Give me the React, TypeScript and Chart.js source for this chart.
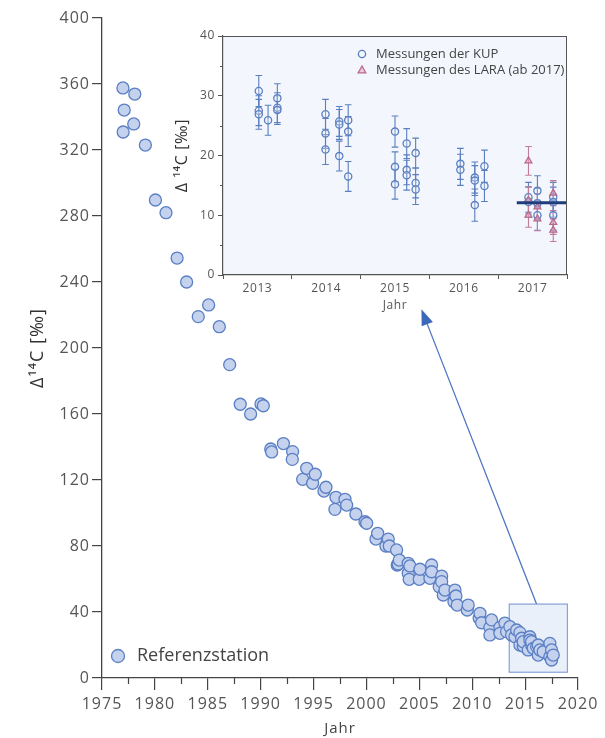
import React, { useEffect, useRef } from 'react';
import { Chart, registerables } from 'chart.js';
Chart.register(...registerables);

// ---------- Main chart data (Referenzstation) ----------
const refYears = [
  1976.98, 1978.1, 1977.1, 1978.0, 1977.0, 1979.1, 1980.05, 1981.05, 1982.1, 1983.0,
  1984.1, 1985.08, 1986.09, 1987.07, 1988.07, 1989.05, 1990.03, 1990.25,
  1990.95, 1991.04, 1992.15, 1993.02, 1992.99, 1993.97, 1994.35, 1994.91, 1995.16,
  1995.98, 1996.17, 1997.02, 1997.12, 1997.97, 1998.13, 1999.0, 1999.86, 2000.02,
  2000.9, 2001.06, 2001.84, 2002.06, 2002.16, 2002.85, 2002.91, 2003.0, 2003.1,
  2003.95, 2003.95, 2004.04, 2004.11, 2004.99, 2005.06, 2006.0, 2006.16, 2006.16,
  2006.88, 2007.11, 2007.11, 2007.26, 2007.42, 2008.27, 2008.37, 2008.46, 2008.58,
  2009.53, 2009.62, 2010.66, 2010.73, 2010.89, 2011.67, 2011.67, 2011.83, 2012.62,
  2012.62, 2013.09, 2013.25, 2013.56, 2013.72, 2014.04, 2014.2, 2014.51, 2014.51,
  2014.67, 2014.82, 2014.82, 2015.29, 2015.45, 2015.45, 2015.61, 2015.61, 2015.77,
  2016.09, 2016.24, 2016.24, 2016.4, 2016.71, 2017.34, 2017.34, 2017.5, 2017.5, 2017.66,
];
const refValues = [
  357.6, 353.9, 344.2, 335.8, 330.9, 323.0, 289.7, 282.0, 254.5, 240.0,
  219.0, 226.1, 212.9, 189.9, 165.9, 160.0, 166.1, 165.0,
  138.8, 137.0, 142.1, 137.2, 132.5, 120.4, 127.1, 118.0, 123.5,
  113.3, 115.6, 102.2, 109.5, 108.3, 104.8, 99.4, 94.7, 93.8,
  84.2, 87.7, 80.0, 84.2, 80.0, 77.6, 68.5, 69.1, 71.5,
  69.5, 63.5, 59.8, 67.9, 59.8, 65.9, 60.4, 68.5, 64.4,
  55.3, 61.8, 58.4, 50.3, 53.3, 46.2, 53.3, 49.7, 44.2,
  41.2, 44.2, 36.2, 39.2, 33.5, 30.7, 26.1, 35.2, 30.7,
  27.1, 33.3, 28.1, 31.1, 26.1, 25.0, 29.1, 27.5, 20.0,
  24.1, 19.4, 22.0, 17.0, 25.0, 23.0, 20.0, 22.0, 18.0,
  19.0, 20.0, 13.9, 17.0, 15.9, 21.0, 12.9, 17.0, 10.9, 13.9,
];
const minorYears = [1977.5, 1982.5, 1987.5, 1992.5, 1997.5, 2002.5, 2007.5, 2012.5, 2017.5];
const zoomBoxYears = [2013.5, 2019.0];
const zoomBoxValues = [3.5, 44.8];
const arrowFrom = [2016.08, 44.8];
const arrowTo = [2005.2, 223.5];

// ---------- Inset data ----------
const kupYears = [
  2013.52, 2013.52, 2013.52, 2013.655, 2013.79, 2013.79, 2013.79,
  2014.49, 2014.49, 2014.49, 2014.69, 2014.69, 2014.69, 2014.82, 2014.82, 2014.82,
  2015.5, 2015.5, 2015.5, 2015.67, 2015.67, 2015.67, 2015.8, 2015.8, 2015.8,
  2016.45, 2016.45, 2016.66, 2016.66, 2016.66, 2016.8, 2016.8,
  2017.44, 2017.44, 2017.57, 2017.57, 2017.57, 2017.8, 2017.8, 2017.8,
];
const kupValues = [
  30.8, 27.5, 26.9, 25.9, 29.6, 28.0, 27.6,
  26.9, 23.7, 21.0, 25.7, 25.2, 19.9, 25.9, 24.0, 16.5,
  24.0, 18.1, 15.2, 22.0, 17.6, 16.7, 20.4, 15.4, 14.3,
  18.6, 17.6, 16.3, 15.8, 11.7, 18.2, 14.9,
  13.0, 12.2, 14.1, 12.0, 10.0, 13.0, 12.2, 10.0,
];
const kupErrors = [
  2.6, 2.5, 2.5, 2.5, 2.4, 2.5, 2.4,
  2.5, 2.5, 2.5, 2.5, 2.5, 2.5, 2.6, 2.5, 2.5,
  2.6, 2.5, 2.5, 2.5, 2.5, 2.5, 2.5, 2.5, 2.5,
  2.6, 2.6, 2.6, 2.5, 2.7, 2.7, 2.6,
  2.5, 2.5, 2.5, 2.5, 2.5, 2.5, 2.5, 2.5,
];
const laraYears = [2017.44, 2017.44, 2017.44, 2017.57, 2017.57, 2017.8, 2017.8, 2017.8];
const laraValues = [19.1, 12.5, 10.0, 11.4, 9.4, 13.7, 8.8, 7.5];
const laraErrors = [2.4, 2.3, 2.0, 2.2, 2.0, 2.1, 2.0, 1.9];
const meanYears = [2017.27, 2017.99];
const meanValues = [12.1, 12.1];
const insetMinorValues = [5, 15, 25, 35];

const FONT = "'Open Sans', 'Noto Sans', sans-serif";

const mainDecor = {
  id: 'mainDecor',
  beforeDraw(chart: any) {
    chart.ctx.letterSpacing = '1px';
  },
  beforeDatasetsDraw(chart: any) {
    const { ctx, scales } = chart;
    const x = scales.x, y = scales.y;
    const l = x.getPixelForValue(zoomBoxYears[0]);
    const r = x.getPixelForValue(zoomBoxYears[1]);
    const t = y.getPixelForValue(zoomBoxValues[1]);
    const b = y.getPixelForValue(zoomBoxValues[0]);
    ctx.save();
    ctx.fillStyle = 'rgba(196,212,242,0.35)';
    ctx.fillRect(l, t, r - l, b - t);
    ctx.strokeStyle = '#86a2d8';
    ctx.lineWidth = 1.2;
    ctx.strokeRect(l, t, r - l, b - t);
    ctx.strokeStyle = '#444';
    ctx.lineWidth = 1.2;
    for (const v of minorYears) {
      const px = Math.round(x.getPixelForValue(v)) + 0.5;
      ctx.beginPath();
      ctx.moveTo(px, y.bottom);
      ctx.lineTo(px, y.bottom + 6);
      ctx.stroke();
    }
    ctx.restore();
  },
  afterDatasetsDraw(chart: any) {
    const { ctx, scales, chartArea } = chart;
    const x = scales.x, y = scales.y;
    const fx = x.getPixelForValue(arrowFrom[0]);
    const fy = y.getPixelForValue(arrowFrom[1]);
    const tx = x.getPixelForValue(arrowTo[0]);
    const ty = y.getPixelForValue(arrowTo[1]);
    const ang = Math.atan2(ty - fy, tx - fx);
    const headLen = 16, headW = 6;
    const bx = tx - headLen * Math.cos(ang);
    const by = ty - headLen * Math.sin(ang);
    ctx.save();
    ctx.letterSpacing = '0px';
    ctx.strokeStyle = '#4f76c4';
    ctx.lineWidth = 1.3;
    ctx.beginPath();
    ctx.moveTo(fx, fy);
    ctx.lineTo(bx, by);
    ctx.stroke();
    ctx.fillStyle = '#3c68bc';
    ctx.beginPath();
    ctx.moveTo(tx, ty);
    ctx.lineTo(bx + headW * Math.sin(ang), by - headW * Math.cos(ang));
    ctx.lineTo(bx - headW * Math.sin(ang), by + headW * Math.cos(ang));
    ctx.closePath();
    ctx.fill();
    const lx = chartArea.left + 16;
    const ly = chartArea.bottom - 22;
    ctx.fillStyle = '#c5d2ee';
    ctx.strokeStyle = '#5b7fc4';
    ctx.lineWidth = 1.3;
    ctx.beginPath();
    ctx.arc(lx, ly, 6.5, 0, Math.PI * 2);
    ctx.fill();
    ctx.stroke();
    ctx.fillStyle = '#444';
    ctx.font = `18px ${FONT}`;
    ctx.textAlign = 'left';
    ctx.textBaseline = 'middle';
    ctx.fillText('Referenzstation', lx + 19, ly);
    ctx.restore();
  },
};

const insetDecor = {
  id: 'insetDecor',
  beforeDraw(chart: any) {
    const { ctx, chartArea: a } = chart;
    ctx.save();
    ctx.fillStyle = '#f3f6fc';
    ctx.fillRect(a.left, a.top, a.right - a.left, a.bottom - a.top);
    ctx.restore();
    ctx.letterSpacing = '0.6px';
  },
  beforeDatasetsDraw(chart: any) {
    const { ctx, scales } = chart;
    const x = scales.x, y = scales.y;
    const drawBars = (xs: number[], vs: number[], es: number[], color: string) => {
      ctx.strokeStyle = color;
      ctx.lineWidth = 1.1;
      for (let i = 0; i < xs.length; i++) {
        const px = x.getPixelForValue(xs[i]);
        const top = y.getPixelForValue(vs[i] + es[i]);
        const bot = y.getPixelForValue(vs[i] - es[i]);
        ctx.beginPath();
        ctx.moveTo(px, top);
        ctx.lineTo(px, bot);
        ctx.moveTo(px - 3.3, top);
        ctx.lineTo(px + 3.3, top);
        ctx.moveTo(px - 3.3, bot);
        ctx.lineTo(px + 3.3, bot);
        ctx.stroke();
      }
    };
    ctx.save();
    drawBars(kupYears, kupValues, kupErrors, '#5a7fc0');
    drawBars(laraYears, laraValues, laraErrors, '#c27c98');
    ctx.restore();
  },
  afterDraw(chart: any) {
    const { ctx, chartArea: a, scales } = chart;
    const y = scales.y;
    ctx.save();
    ctx.letterSpacing = '0px';
    ctx.strokeStyle = '#555';
    ctx.lineWidth = 1;
    ctx.beginPath();
    ctx.moveTo(a.left, Math.round(a.top) + 0.5);
    ctx.lineTo(a.right, Math.round(a.top) + 0.5);
    ctx.moveTo(Math.round(a.right) - 0.5, a.top);
    ctx.lineTo(Math.round(a.right) - 0.5, a.bottom);
    ctx.stroke();
    for (const v of insetMinorValues) {
      const py = Math.round(y.getPixelForValue(v)) + 0.5;
      ctx.beginPath();
      ctx.moveTo(a.left - 3, py);
      ctx.lineTo(a.left, py);
      ctx.stroke();
    }
    const mx = a.left + 139;
    const my1 = a.top + 18;
    const my2 = a.top + 34;
    ctx.strokeStyle = '#5a7fc0';
    ctx.lineWidth = 1.3;
    ctx.beginPath();
    ctx.arc(mx, my1, 3.6, 0, Math.PI * 2);
    ctx.stroke();
    ctx.fillStyle = 'rgba(225,170,195,0.55)';
    ctx.strokeStyle = '#b8668a';
    ctx.beginPath();
    ctx.moveTo(mx, my2 - 4);
    ctx.lineTo(mx + 3.8, my2 + 2.8);
    ctx.lineTo(mx - 3.8, my2 + 2.8);
    ctx.closePath();
    ctx.fill();
    ctx.stroke();
    ctx.fillStyle = '#444';
    ctx.font = `13px ${FONT}`;
    ctx.textAlign = 'left';
    ctx.textBaseline = 'middle';
    ctx.fillText('Messungen der KUP', mx + 14, my1);
    ctx.fillText('Messungen des LARA (ab 2017)', mx + 14, my2);
    ctx.restore();
  },
};

export default function App() {
  const mainRef = useRef<HTMLCanvasElement | null>(null);
  const insetRef = useRef<HTMLCanvasElement | null>(null);

  useEffect(() => {
    document.body.style.margin = '0';
    Chart.defaults.font.family = FONT;
    Chart.defaults.color = '#555';

    const main = new Chart(mainRef.current as HTMLCanvasElement, {
      type: 'scatter',
      data: {
        datasets: [
          {
            label: 'Referenzstation',
            data: refYears.map((yr, i) => ({ x: yr, y: refValues[i] })),
            pointRadius: 6,
            pointBackgroundColor: '#c5d2ee',
            pointBorderColor: '#5b7fc4',
            pointBorderWidth: 1.3,
          },
        ],
      },
      options: {
        responsive: false,
        animation: false,
        layout: { padding: { left: 0, top: 18, right: 27, bottom: 0 } },
        plugins: { legend: { display: false }, tooltip: { enabled: false } },
        scales: {
          x: {
            type: 'linear',
            min: 1975,
            max: 2020,
            afterFit: (s: any) => { s.height = 60; },
            ticks: {
              stepSize: 5,
              autoSkip: false,
              maxRotation: 0,
              callback: (v: any) => String(v),
              color: '#555',
              font: { size: 16 },
              padding: 5,
            },
            grid: { drawOnChartArea: false, tickLength: 12, color: '#444', lineWidth: 1.2 },
            border: { color: '#444', width: 1.3 },
            title: { display: true, text: 'Jahr', color: '#444', font: { size: 15 }, padding: { top: 0, bottom: 0 } },
          },
          y: {
            min: 0,
            max: 400,
            afterFit: (s: any) => { s.width = 102; },
            ticks: { stepSize: 40, color: '#555', font: { size: 16 }, padding: 2, callback: (v: any) => String(v) },
            grid: { drawOnChartArea: false, tickLength: 10, color: '#444', lineWidth: 1.2 },
            border: { color: '#444', width: 1.3 },
            title: { display: true, text: 'Δ¹⁴C [‰]', color: '#333', font: { size: 18 }, padding: { top: 27, bottom: 0 } },
          },
        },
      },
      plugins: [mainDecor],
    } as any);

    const inset = new Chart(insetRef.current as HTMLCanvasElement, {
      type: 'scatter',
      data: {
        datasets: [
          {
            type: 'line',
            label: 'Mittelwert 2017',
            data: meanYears.map((yr, i) => ({ x: yr, y: meanValues[i] })),
            borderColor: '#1f3d7a',
            borderWidth: 3,
            pointRadius: 0,
            fill: false,
          },
          {
            label: 'Messungen des LARA (ab 2017)',
            data: laraYears.map((yr, i) => ({ x: yr, y: laraValues[i] })),
            pointStyle: 'triangle',
            pointRadius: 4,
            pointBackgroundColor: 'rgba(225,170,195,0.55)',
            pointBorderColor: '#b8668a',
            pointBorderWidth: 1.2,
          },
          {
            label: 'Messungen der KUP',
            data: kupYears.map((yr, i) => ({ x: yr, y: kupValues[i] })),
            pointStyle: 'circle',
            pointRadius: 3.6,
            pointBackgroundColor: 'rgba(243,246,252,0.3)',
            pointBorderColor: '#5a7fc0',
            pointBorderWidth: 1.3,
          },
        ],
      },
      options: {
        responsive: false,
        animation: false,
        layout: { padding: { left: 0, top: 16, right: 13, bottom: 0 } },
        plugins: { legend: { display: false }, tooltip: { enabled: false } },
        scales: {
          x: {
            type: 'linear',
            min: 2013,
            max: 2018,
            afterFit: (s: any) => { s.height = 45; },
            afterBuildTicks: (s: any) => {
              const t = [];
              for (let v = 2013; v <= 2018; v += 0.5) t.push({ value: v });
              s.ticks = t;
            },
            ticks: {
              autoSkip: false,
              maxRotation: 0,
              callback: (v: any) => (Number(v) % 1 !== 0 ? String(Math.floor(Number(v))) : ''),
              color: '#555',
              font: { size: 12 },
              padding: 2,
            },
            grid: {
              drawOnChartArea: false,
              tickLength: 4,
              lineWidth: 1,
              color: (c: any) => (c.tick && Number(c.tick.value) % 1 !== 0 ? 'rgba(0,0,0,0)' : '#555'),
            },
            border: { color: '#555', width: 1.2 },
            title: { display: true, text: 'Jahr', color: '#555', font: { size: 12 }, padding: { top: 0, bottom: 7 } },
          },
          y: {
            min: 0,
            max: 40,
            afterFit: (s: any) => { s.width = 63; },
            ticks: { stepSize: 10, color: '#555', font: { size: 12 }, padding: 3 },
            grid: { drawOnChartArea: false, tickLength: 5, color: '#555', lineWidth: 1 },
            border: { color: '#555', width: 1.2 },
            title: { display: true, text: 'Δ ¹⁴C [‰]', color: '#333', font: { size: 16 }, padding: { top: 13, bottom: 0 } },
          },
        },
      },
      plugins: [insetDecor],
    } as any);

    return () => {
      main.destroy();
      inset.destroy();
    };
  }, []);

  return (
    <div style={{ position: 'relative', width: 605, height: 738, background: '#fff' }}>
      <canvas ref={mainRef} width={605} height={738} style={{ position: 'absolute', left: 0, top: 0, width: 605, height: 738 }} />
      <canvas ref={insetRef} width={420} height={300} style={{ position: 'absolute', left: 160, top: 20, width: 420, height: 300 }} />
    </div>
  );
}
